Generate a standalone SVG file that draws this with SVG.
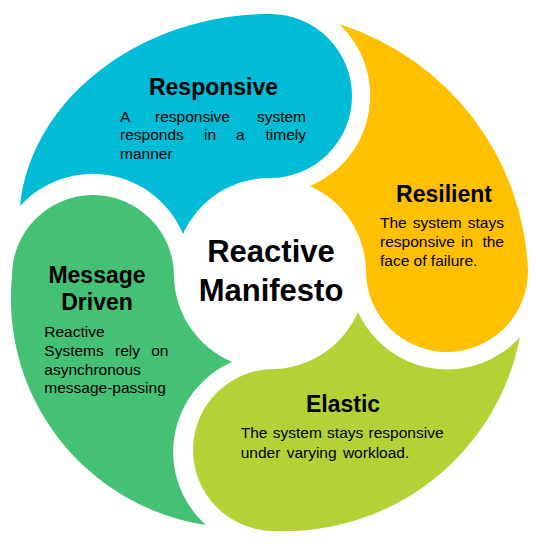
<svg xmlns="http://www.w3.org/2000/svg" width="536" height="555" viewBox="0 0 536 555">
<style>
.head{font-family:"Liberation Sans",Arial,sans-serif;font-weight:bold;font-size:23px;fill:#000;text-anchor:middle}
.body{font-family:"Liberation Sans",Arial,sans-serif;font-size:15.5px;fill:#000}
.center{font-family:"Liberation Sans",Arial,sans-serif;font-weight:bold;font-size:31px;fill:#000;text-anchor:middle}
.end{text-anchor:end}
</style>
<rect width="536" height="555" fill="#fff"/>
<g id="node-responsive">
<path fill="#00BCD6" d="M 20 206 C 32 95 145 14 270 14 A 82 82 0 0 1 352 96 A 82 82 0 0 1 270 178 A 95 95 0 0 0 183 234 A 98 98 0 0 0 20 206 Z"/>
<text class="head" x="213.5" y="95">Responsive</text>
<text class="body" y="121.7"><tspan x="120">A</tspan><tspan x="155">responsive</tspan><tspan x="306" class="end" text-anchor="end">system</tspan></text>
<text class="body" y="140.2"><tspan x="120">responds</tspan><tspan x="204">in</tspan><tspan x="236">a</tspan><tspan x="306" text-anchor="end">timely</tspan></text>
<text class="body" x="120" y="158.5">manner</text>
</g>
<g id="node-resilient">
<path fill="#FFC000" d="M 339 24 A 270 270 0 0 1 528 271 A 81 81 0 0 1 447 352 A 81 81 0 0 1 366 271 A 95 95 0 0 0 310 186 A 98 98 0 0 0 339 24 Z"/>
<text class="head" x="444" y="201.5">Resilient</text>
<text class="body" y="228.3"><tspan x="380">The</tspan><tspan x="412.7">system</tspan><tspan x="504" text-anchor="end">stays</tspan></text>
<text class="body" y="247.3"><tspan x="380">responsive</tspan><tspan x="461">in</tspan><tspan x="504" text-anchor="end">the</tspan></text>
<text class="body" x="380" y="265.7">face of failure.</text>
</g>
<g id="node-elastic">
<path fill="#B3D235" d="M 520 337 A 240 240 0 0 1 274 531 A 81 81 0 0 1 193 450 A 81 81 0 0 1 274 369 A 95 95 0 0 0 358 312 A 98 98 0 0 0 520 337 Z"/>
<text class="head" x="343" y="411.7">Elastic</text>
<text class="body" x="240.7" y="438.3" word-spacing="1">The system stays responsive</text>
<text class="body" x="240.7" y="457.7" word-spacing="2">under varying workload.</text>
</g>
<g id="node-message-driven">
<path fill="#45C176" d="M 206 525 A 229 229 0 0 1 12 276 A 81 81 0 0 1 93 195 A 81 81 0 0 1 174 276 A 95 95 0 0 0 232 362 A 98 98 0 0 0 206 525 Z"/>
<text class="head" x="97" y="283.3">Message</text>
<text class="head" x="97" y="310">Driven</text>
<text class="body" x="44.3" y="336.7">Reactive</text>
<text class="body" y="356"><tspan x="44.3">Systems</tspan><tspan x="115">rely</tspan><tspan x="168.5" text-anchor="end">on</tspan></text>
<text class="body" x="44.3" y="374.5">asynchronous</text>
<text class="body" x="44.3" y="393.3">message-passing</text>
</g>
<g id="center">
<text class="center" x="271" y="261.7">Reactive</text>
<text class="center" x="271" y="300.7">Manifesto</text>
</g>
</svg>
